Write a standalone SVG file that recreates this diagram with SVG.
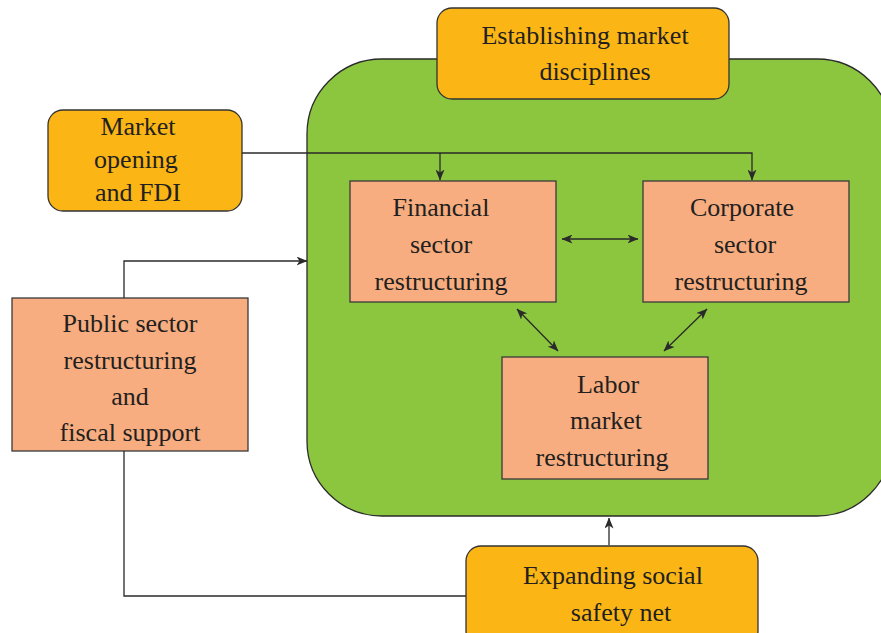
<svg xmlns="http://www.w3.org/2000/svg" width="881" height="633" viewBox="0 0 881 633">
<style>
.yel{fill:#FBB615;stroke:#333;stroke-width:1.3}
.pch{fill:#F7AD7F;stroke:#3a3a3a;stroke-width:1.3}
.grn{fill:#8CC63F;stroke:#2a2a2a;stroke-width:1.3}
.con{fill:none;stroke:#2a2a2a;stroke-width:1.3}
text{font-family:"Liberation Serif","Times New Roman",serif;font-size:26px;fill:#231f20;text-anchor:middle}
</style>
<defs>
<marker id="ah" viewBox="0 0 11 9" refX="10.5" refY="4.5" markerWidth="11" markerHeight="9" markerUnits="userSpaceOnUse" orient="auto-start-reverse">
<path d="M0,0 L11,4.5 L0,9 L3,4.5 z" fill="#2a2a2a"/>
</marker>
</defs>
<rect width="881" height="633" fill="#fff"/>
<g id="container">
<rect class="grn" x="307" y="59" width="585" height="457" rx="75" ry="75"/>
</g>
<g id="establishing">
<rect class="yel" x="437" y="8" width="292" height="91" rx="15"/>
<text x="585" y="44">Establishing market</text>
<text x="595" y="80">disciplines</text>
</g>
<g id="market-opening">
<rect class="yel" x="48" y="110" width="194" height="101" rx="15"/>
<text x="138" y="135">Market</text>
<text x="136" y="168">opening</text>
<text x="138" y="201">and FDI</text>
</g>
<g id="financial">
<rect class="pch" x="350" y="181" width="206" height="121"/>
<text x="441" y="216">Financial</text>
<text x="441" y="253">sector</text>
<text x="441" y="290">restructuring</text>
</g>
<g id="corporate">
<rect class="pch" x="643" y="181" width="206" height="121"/>
<text x="742" y="216">Corporate</text>
<text x="745" y="253">sector</text>
<text x="741" y="290">restructuring</text>
</g>
<g id="labor">
<rect class="pch" x="502" y="357" width="206" height="122"/>
<text x="608" y="393">Labor</text>
<text x="606" y="429">market</text>
<text x="602" y="466">restructuring</text>
</g>
<g id="public">
<rect class="pch" x="12" y="298" width="236" height="153"/>
<text x="130" y="332">Public sector</text>
<text x="130" y="369">restructuring</text>
<text x="130" y="405">and</text>
<text x="130" y="441">fiscal support</text>
</g>
<g id="expanding">
<rect class="yel" x="466" y="546" width="292" height="100" rx="15"/>
<text x="613" y="584">Expanding social</text>
<text x="621" y="621">safety net</text>
</g>
<g id="connectors">
<path class="con" d="M242,153 H752 V180" marker-end="url(#ah)"/>
<path class="con" d="M440,153 V180" marker-end="url(#ah)"/>
<path class="con" d="M124,298 V261 H307" marker-end="url(#ah)"/>
<path class="con" d="M124,451 V596 H466"/>
<path class="con" d="M609,545 V518" marker-end="url(#ah)"/>
<path class="con" d="M562,239 H638" marker-start="url(#ah)" marker-end="url(#ah)"/>
<path class="con" d="M517,309 L558,351" marker-start="url(#ah)" marker-end="url(#ah)"/>
<path class="con" d="M707,309 L664,351" marker-start="url(#ah)" marker-end="url(#ah)"/>
</g>
</svg>
